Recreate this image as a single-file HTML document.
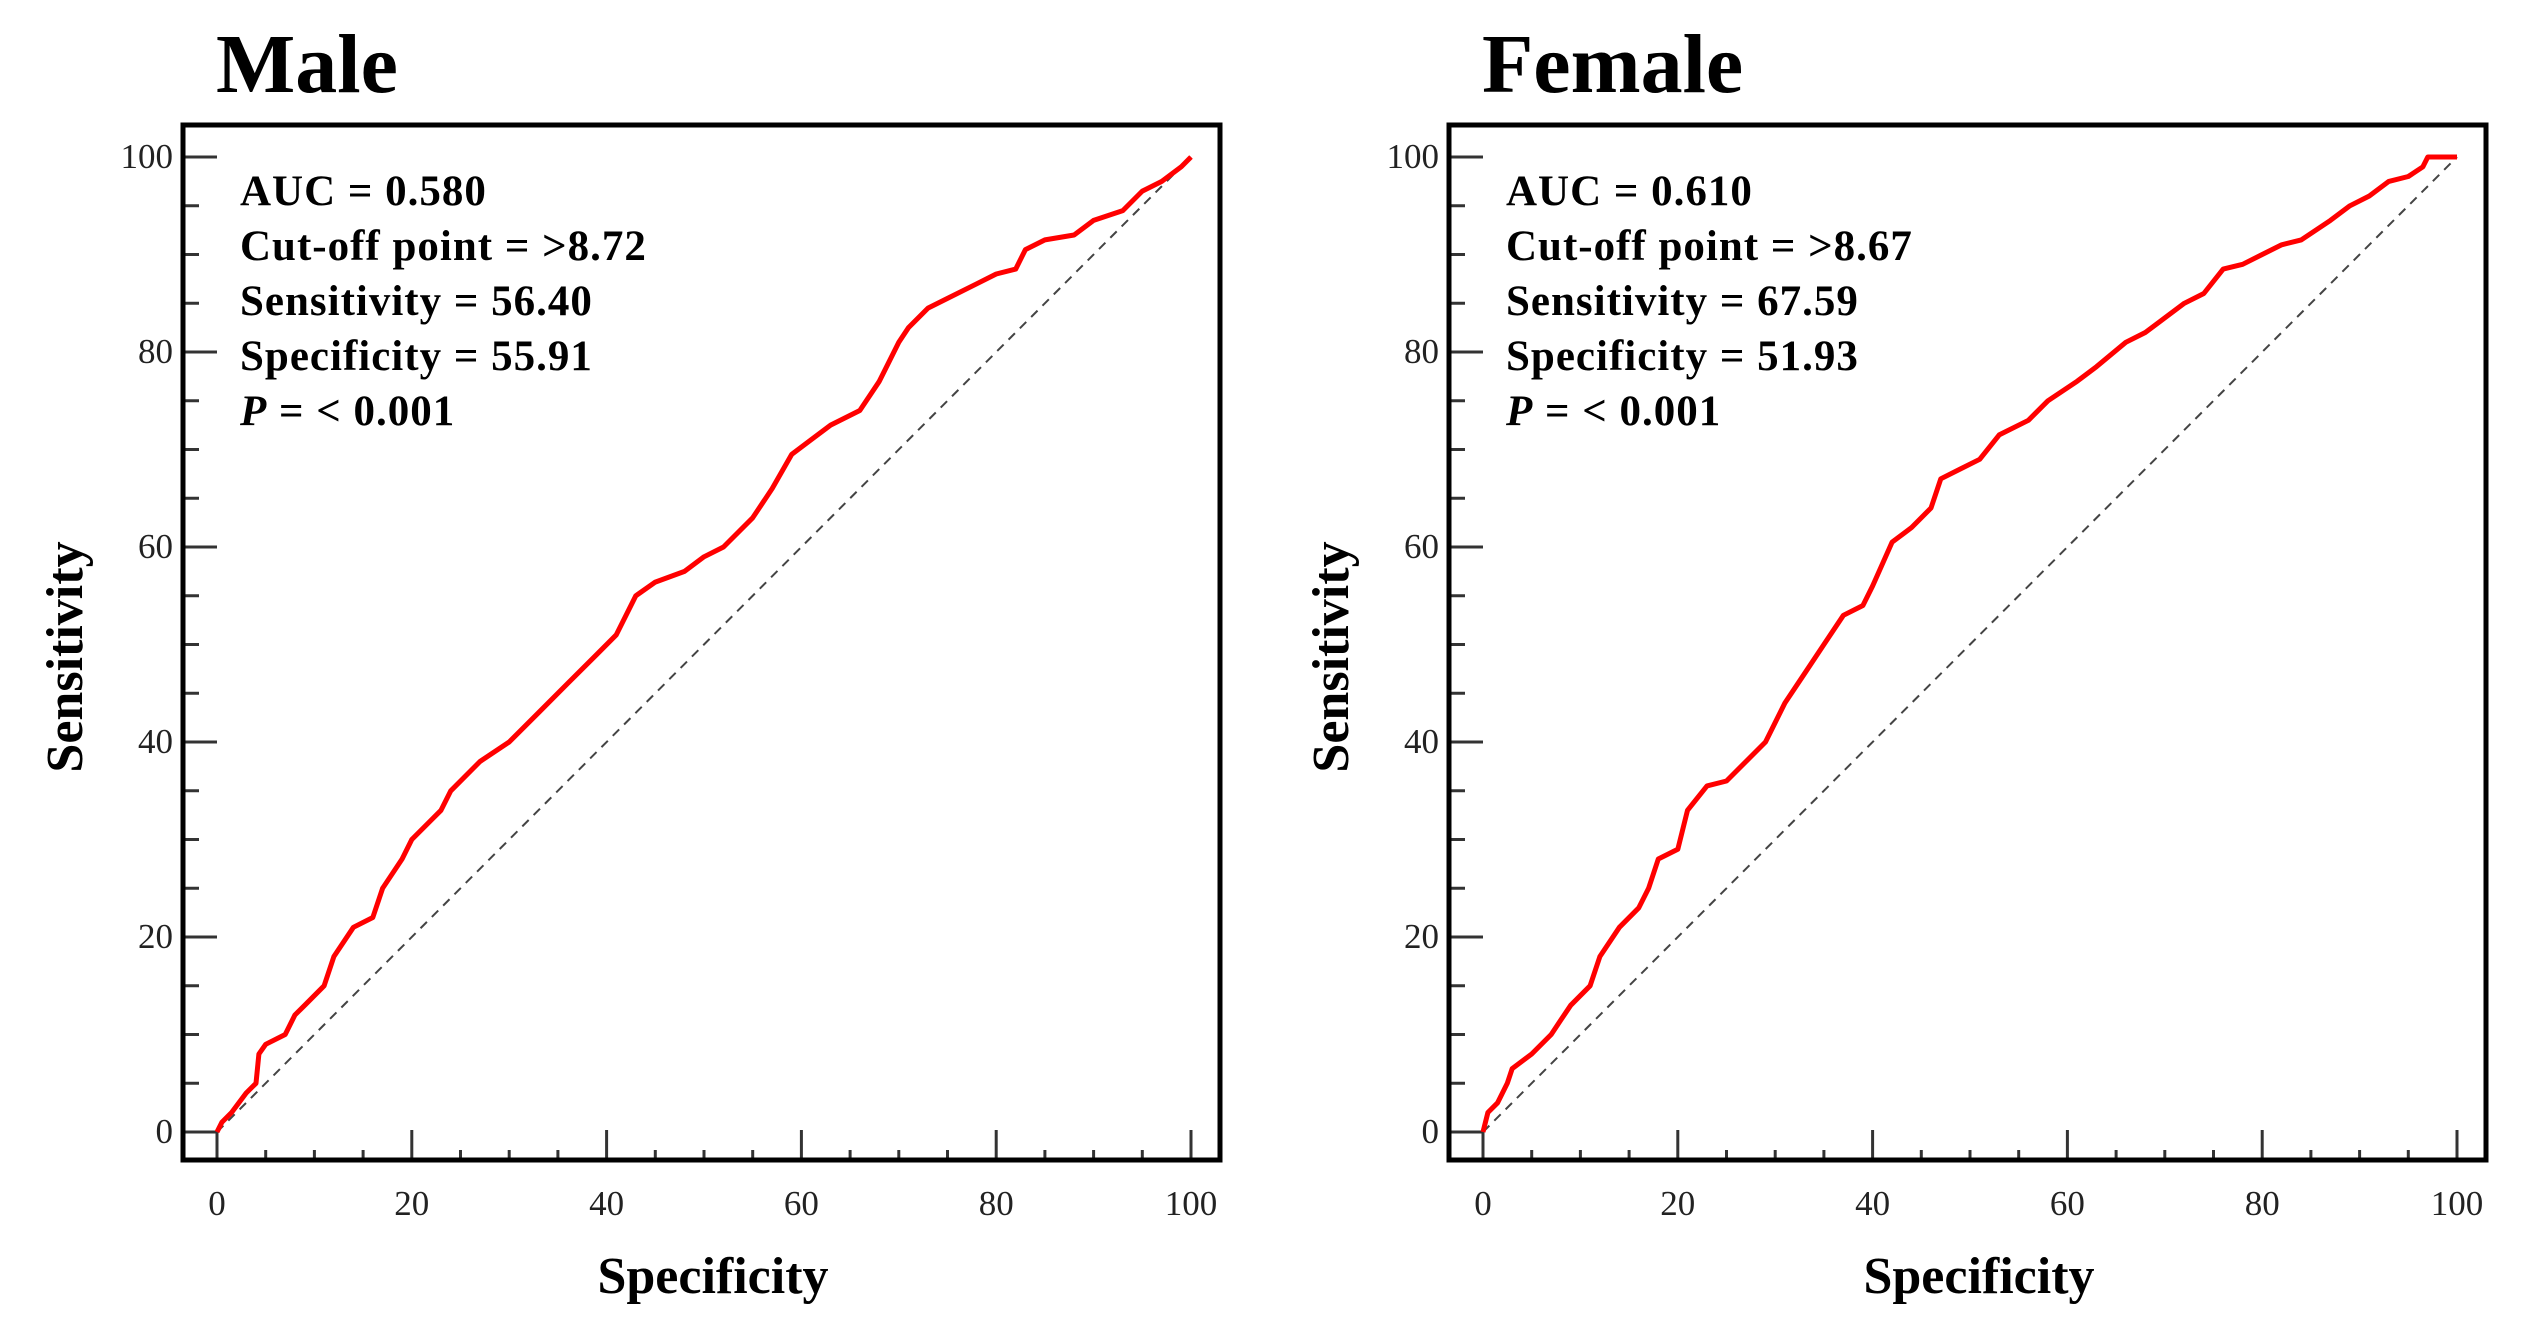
<!DOCTYPE html>
<html><head><meta charset="utf-8"><style>
html,body{margin:0;padding:0;background:#fff;}
svg{display:block;font-family:"Liberation Serif",serif;}
</style></head><body>
<svg id="chart" width="2531" height="1336" viewBox="0 0 2531 1336" xmlns="http://www.w3.org/2000/svg"></svg>
<script>
const xTicks = [0,20,40,60,80,100];
const yTicks = [0,20,40,60,80,100];
const maleSpec = [0,0.5,1.5,3,4,4.3,5,7,8,9,11,12,14,16,17,19,20,22,23,24,27,30,33,36,39,41,43,45,48,50,52,55,57,59,61,63,66,68,70,71,73,75,78,80,82,83,85,88,90,93,95,97,99,100];
const maleSens = [0,1,2,4,5,8,9,10,12,13,15,18,21,22,25,28,30,32,33,35,38,40,43,46,49,51,55,56.4,57.5,59,60,63,66,69.5,71,72.5,74,77,81,82.5,84.5,85.5,87,88,88.5,90.5,91.5,92,93.5,94.5,96.5,97.5,99,100];
const femaleSpec = [0,0.5,1.5,2.5,3,5,7,8,9,11,12,14,16,17,18,20,21,23,25,27,29,31,33,35,37,39,40,42,44,46,47,49,51,53,56,58,61,63,66,68,70,72,74,76,78,80,82,84,87,89,91,93,95,96.5,97,100];
const femaleSens = [0,2,3,5,6.5,8,10,11.5,13,15,18,21,23,25,28,29,33,35.5,36,38,40,44,47,50,53,54,56,60.5,62,64,67,68,69,71.5,73,75,77,78.5,81,82,83.5,85,86,88.5,89,90,91,91.5,93.5,95,96,97.5,98,99,100,100];
const maleStats = ["AUC = 0.580","Cut-off point = >8.72","Sensitivity = 56.40","Specificity = 55.91","< 0.001"];
const femaleStats = ["AUC = 0.610","Cut-off point = >8.67","Sensitivity = 67.59","Specificity = 51.93","< 0.001"];

const NS="http://www.w3.org/2000/svg";
const svg=document.getElementById('chart');
function mk(tag,attrs,parent){const e=document.createElementNS(NS,tag);for(const k in attrs)e.setAttribute(k,attrs[k]);(parent||svg).appendChild(e);return e;}

function panel(off,title,key,spec,sens,stats){
  const g=mk('g',{});
  
  
  const x=v=>217+off+v*9.74;
  const y=v=>1132-v*9.75;
  const bl=183+off, br=1220+off, bt=125, bb=1160;
  const t=mk('text',{x:216+off,y:92,'font-size':84,'font-weight':'bold'},g);t.textContent=title;
  
  
  for(let v=0;v<=100;v+=5){
    const major=v%20===0;
    const yt=mk('line',{x1:bl,x2:bl+(major?34:16),y1:y(v),y2:y(v),stroke:'#333','stroke-width':3},g);
    
    
    const xt=mk('line',{x1:x(v),x2:x(v),y1:bb,y2:bb-(major?30:10),stroke:'#333','stroke-width':3},g);
    
    
  }
  yTicks.forEach(v=>{
    const l=mk('text',{x:173+off,y:y(v)+11,'font-size':35,'text-anchor':'end',fill:'#222'},g);l.textContent=v;
    
    
  });
  xTicks.forEach(v=>{
    const l=mk('text',{x:x(v),y:1215,'font-size':35,'text-anchor':'middle',fill:'#222'},g);l.textContent=v;
    
    
  });
  const d=mk('line',{x1:x(0),y1:y(0),x2:x(100),y2:y(100),stroke:'#444','stroke-width':2,'stroke-dasharray':'9,7'},g);
  
  
  const pts=spec.map((s,i)=>x(s).toFixed(1)+','+y(sens[i]).toFixed(1)).join(' ');
  const c=mk('polyline',{points:pts,fill:'none',stroke:'#ff0000','stroke-width':5,'stroke-linejoin':'round'},g);
  
  
  const b=mk('rect',{x:bl,y:bt,width:br-bl,height:bb-bt,fill:'none',stroke:'#000','stroke-width':5},g);
  
  
  stats.forEach((s,i)=>{
    const tx=mk('text',{x:240+off,y:205+i*55,'font-size':43,'font-weight':'bold','letter-spacing':1},g);
    if(i===4){
      const p=mk('tspan',{'font-style':'italic'},tx);p.textContent='P';
      const r=mk('tspan',{},tx);r.textContent=' = '+s;
    } else tx.textContent=s;
    
    
  });
  const xl=mk('text',{x:713+off,y:1293,'font-size':52,'font-weight':'bold','text-anchor':'middle'},g);xl.textContent='Specificity';
  
  
  const yl=mk('text',{x:0,y:0,'font-size':52,'font-weight':'bold','text-anchor':'middle',transform:`translate(${82+off},657) rotate(-90)`},g);yl.textContent='Sensitivity';
  
  
}
panel(0,'Male','male',maleSpec,maleSens,maleStats);
panel(1266,'Female','female',femaleSpec,femaleSens,femaleStats);
</script>
</body></html>
